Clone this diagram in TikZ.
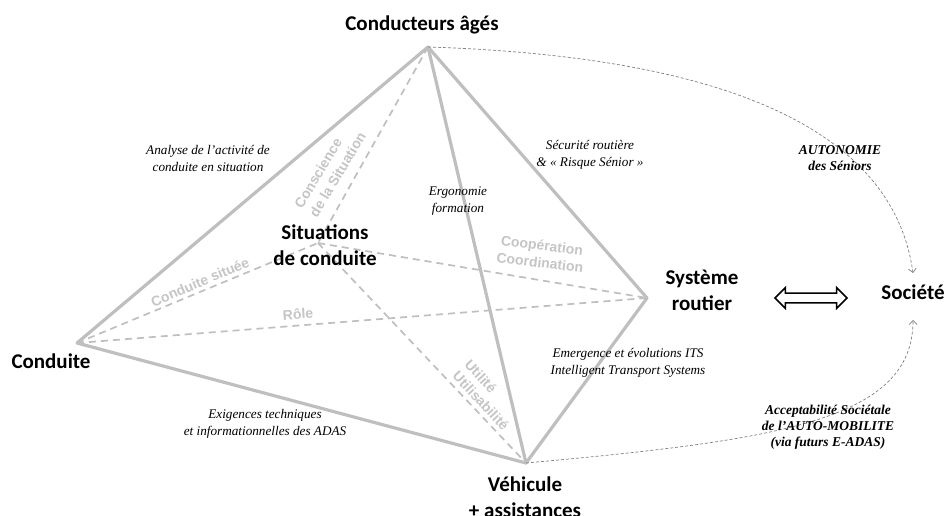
\documentclass[tikz,border=0pt]{standalone}
\usepackage{fontspec}
\setmainfont{Liberation Serif}
\newfontfamily\calibri{Carlito}
\newfontfamily\arialf{Liberation Sans}
\usetikzlibrary{arrows.meta,shapes.arrows}
\definecolor{edgegray}{HTML}{BFBFBF}
\definecolor{txtgray}{HTML}{C5C5C5}
\definecolor{curvegray}{HTML}{808080}
\tikzset{
 solidedge/.style={draw=edgegray, line width=3.2pt, line join=round, line cap=round},
 dashedge/.style={draw=edgegray, line width=1.7pt, dash pattern=on 7pt off 5pt},
 curvelink/.style={draw=curvegray, line width=0.7pt, dash pattern=on 3pt off 2pt, -{Straight Barb[length=4pt,width=8pt]}},
 mainlbl/.style={font=\calibri\bfseries\fontsize{21}{26}\selectfont, align=center, inner sep=0pt},
 notelbl/.style={font=\itshape\fontsize{13.2}{17}\selectfont, align=center, inner sep=0pt},
 boldnote/.style={font=\bfseries\itshape\fontsize{13.5}{15.8}\selectfont, align=center, inner sep=0pt},
 graylbl/.style={font=\arialf\bfseries\fontsize{14}{17.5}\selectfont, text=txtgray, align=center, inner sep=0pt}
}
\begin{document}
\begin{tikzpicture}[x=1pt,y=-1pt]
\clip (0,0) rectangle (947,515);
% vertices
\coordinate (A) at (428,47);
\coordinate (C) at (77,343);
\coordinate (S) at (318,243);
\coordinate (R) at (647,298);
\coordinate (V) at (526,463);
\coordinate (socTop) at (913,273);
\coordinate (socBot) at (913,320);
% dashed hidden edges
\draw[dashedge] (A) -- (S);
\draw[dashedge] (C) -- (S);
\draw[dashedge] (C) -- (R);
\draw[dashedge] (S) -- (R);
\draw[dashedge] (S) -- (V);
% solid edges
\draw[solidedge] (A) -- (C);
\draw[solidedge] (A) -- (V);
\draw[solidedge] (A) -- (R);
\draw[solidedge] (C) -- (V);
\draw[solidedge] (R) -- (V);
% curved links
\draw[curvelink] (A) .. controls (680,55) and (890,110) .. (socTop);
\draw[curvelink] (V) .. controls (780,440) and (913,420) .. (socBot);
% double arrow
\node[draw=black, line width=1.5pt, fill=white, double arrow, double arrow head extend=5.5pt, minimum height=72pt, inner sep=4.2pt] (dbl) at (811,298) {};
% main labels
\node[mainlbl] (conducteurs) at (422,25) {Conducteurs âgés};
\node[mainlbl] (situations) at (325,245) {Situations\\de conduite};
\node[mainlbl] (conduite) at (51,361) {Conduite};
\node[mainlbl] (systeme) at (702,290) {Système\\routier};
\node[mainlbl] (societe) at (913,292) {Société};
\node[mainlbl] (vehicule) at (525,497) {Véhicule\\+ assistances};
% italic notes
\node[notelbl] (analyse) at (208,158) {Analyse de l’activité de\\conduite en situation};
\node[notelbl] (securite) at (590,155) {Sécurité routière\\\& « Risque Sénior »};
\node[notelbl] (ergo) at (458,201) {Ergonomie\\formation};
\node[notelbl] (emergence) at (628,363) {Emergence et évolutions ITS\\Intelligent Transport Systems};
\node[notelbl] (exigences) at (265,424) {Exigences techniques\\et informationnelles des ADAS};
\node[boldnote] (autonomie) at (840,158) {AUTONOMIE\\des Séniors};
\node[boldnote] (accept) at (828,427) {Acceptabilité Sociétale\\de l’AUTO-MOBILITE\\(via futurs E-ADAS)};
% gray labels
\node[graylbl, align=left, rotate=59] (conscience) at (330,170) {Conscience\\de la Situation};
\node[graylbl, rotate=23] (situee) at (200,282) {Conduite située};
\node[graylbl, rotate=4] (role) at (298,314) {Rôle};
\node[graylbl, rotate=-7] (coop) at (541,254) {Coopération\\Coordination};
\node[graylbl, align=left, rotate=-47, font=\arialf\bfseries\fontsize{14}{16.5}\selectfont] (utilite) at (487,395) {Utilité\\Utilisabilité};
\end{tikzpicture}
\end{document}
